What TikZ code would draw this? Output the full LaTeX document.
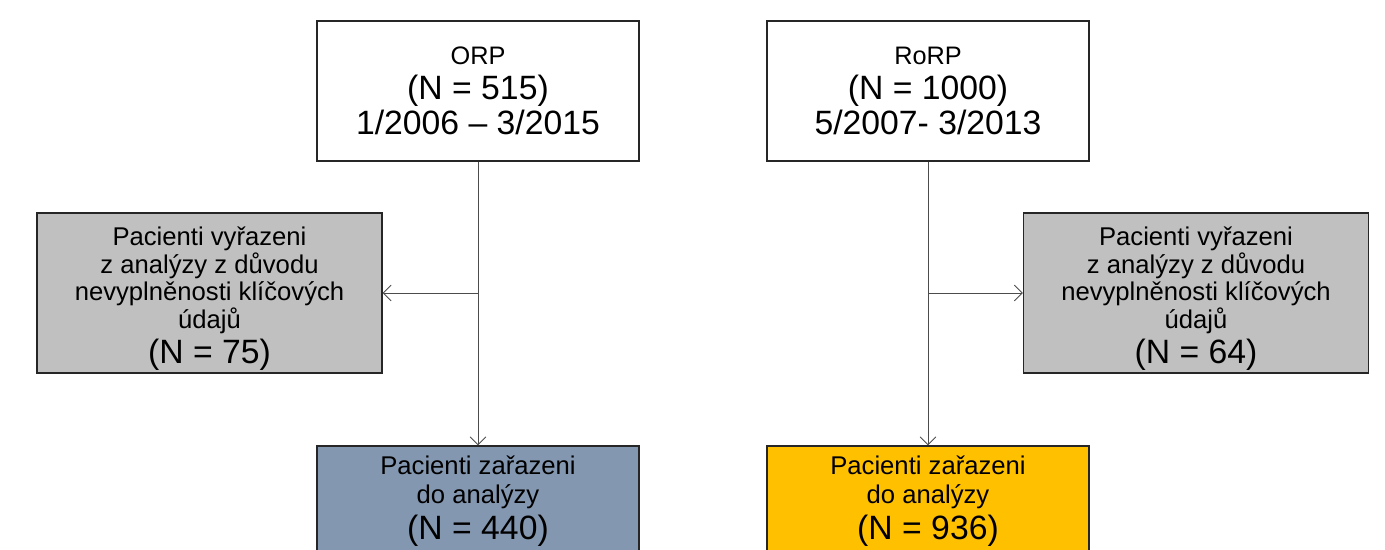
\documentclass[tikz,border=0pt]{standalone}
\usepackage{fontspec}
\setmainfont{Liberation Sans}
\usetikzlibrary{arrows.meta}

\definecolor{exclgray}{RGB}{192,192,192}
\definecolor{orpblue}{RGB}{132,151,176}
\definecolor{rorpamber}{RGB}{255,192,0}

\newcommand{\bigcount}[1]{{\fontsize{19.2}{20}\selectfont #1}}
\newcommand{\topstrut}{\rule{0pt}{17pt}}

\begin{document}
\begin{tikzpicture}[x=0.02cm, y=-0.02cm]
	\tikzstyle{box}      = [rectangle, draw=black!85, line width=0.75pt, inner sep=0pt, align=center]
	\tikzstyle{cohort}   = [box, fill=white, minimum width=6.44cm, minimum height=2.8cm, font=\fontsize{14.4}{19.8}\selectfont]
	\tikzstyle{excluded} = [box, fill=exclgray, minimum width=6.9cm, minimum height=3.2cm, font=\fontsize{14.6}{15.6}\selectfont]
	\tikzstyle{included} = [box, minimum width=6.44cm, minimum height=2.22cm, font=\fontsize{14.6}{16.2}\selectfont]
	\tikzstyle{link}     = [draw=black!70, line width=0.5pt, -{Straight Barb[length=4.5pt, width=9pt]}]

	\useasboundingbox (0,0) rectangle (1385,549);

	% cohorts
	\node[cohort] (orp) at (478, 91) {ORP\\ \bigcount{(N = 515)}\\ \bigcount{1/2006 -- 3/2015}};
	\node[cohort] (rorp) at (928, 91) {RoRP\\ \bigcount{(N = 1000)}\\ \bigcount{5/2007- 3/2013}};

	% excluded patients
	\node[excluded] (orpex) at (209.5, 293) {\topstrut Pacienti vyřazeni\\ z analýzy z důvodu\\ nevyplněnosti klíčových\\ údajů\\[2pt] \bigcount{(N = 75)}};
	\node[excluded] (rorpex) at (1196, 293) {\topstrut Pacienti vyřazeni\\ z analýzy z důvodu\\ nevyplněnosti klíčových\\ údajů\\[2pt] \bigcount{(N = 64)}};

	% included patients
	\node[included, fill=orpblue] (orpin) at (478, 501.5) {Pacienti zařazeni\\ do analýzy\\[3pt] \bigcount{(N = 440)}};
	\node[included, fill=rorpamber] (rorpin) at (928, 501.5) {Pacienti zařazeni\\ do analýzy\\[3pt] \bigcount{(N = 936)}};

	\foreach \from/\to in {orp/orpin, rorp/rorpin}
		\draw[link] (\from) -- (\to);

	\foreach \from/\to in {orp/orpex, rorp/rorpex} {
		\coordinate (\from split) at (\from.south |- \to.east);
		\draw[link] (\from split) -- (\to);
	}
\end{tikzpicture}
\end{document}
